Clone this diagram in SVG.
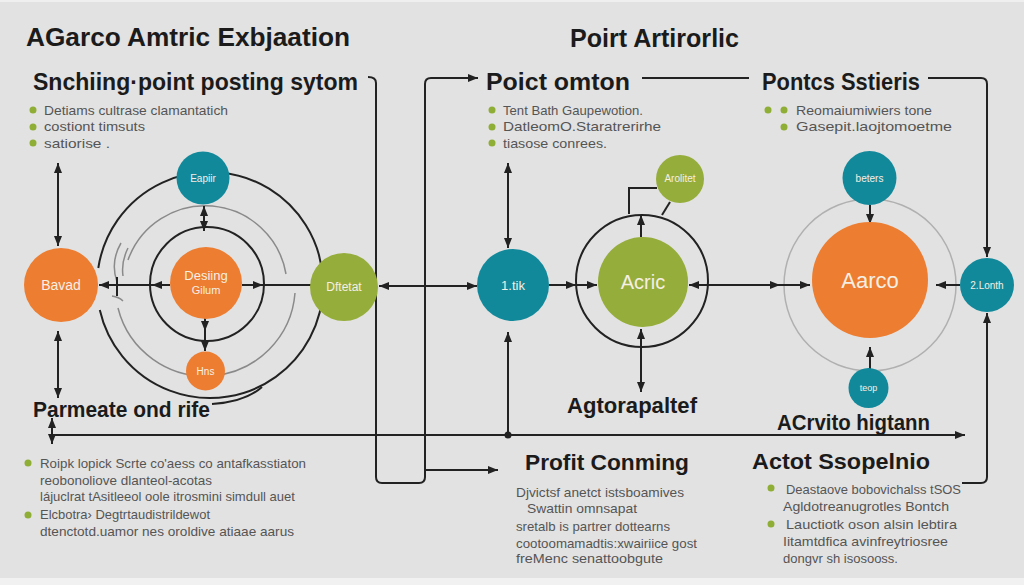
<svg xmlns="http://www.w3.org/2000/svg" width="1024" height="585" viewBox="0 0 1024 585">
<defs>
<marker id="ah" viewBox="0 0 10 10" refX="10" refY="5" markerWidth="10" markerHeight="10" markerUnits="userSpaceOnUse" orient="auto-start-reverse"><path d="M0,1 L10,5 L0,9 z" fill="#222"/></marker>
<style>
.ttl{font-family:"Liberation Sans",Arial,sans-serif;font-weight:bold;fill:#1b1b1b}
.sm{font-family:"Liberation Sans",Arial,sans-serif;font-size:13px;fill:#555}
.dot{fill:#8fae36}
.ln{fill:none;stroke:#222;stroke-width:2}
.ar{fill:none;stroke:#222;stroke-width:2;marker-end:url(#ah)}
.ar2{fill:none;stroke:#222;stroke-width:2;marker-end:url(#ah);marker-start:url(#ah)}
.gr{fill:none;stroke:#8a8a8a;stroke-width:1.5}
.teal{fill:#12899b}
.org{fill:#ec7d31}
.grn{fill:#95ad3b}
.nt{font-family:"Liberation Sans",Arial,sans-serif;fill:#f6efe4;text-anchor:middle}
</style>
</defs>
<rect width="1024" height="585" fill="#e2e2e2"/>
<rect y="578" width="1024" height="7" fill="#f1f1f1"/>
<rect width="1024" height="2" fill="#efefef"/>

<g id="titles">
<text class="ttl" x="26" y="46" font-size="26" textLength="324" lengthAdjust="spacingAndGlyphs">AGarco Amtric Exbjaation</text>
<text class="ttl" x="570" y="47" font-size="25" textLength="169" lengthAdjust="spacingAndGlyphs">Poirt Artirorlic</text>
</g>

<g id="sec-left-top">
<text class="ttl" x="33" y="90" font-size="24" textLength="325" lengthAdjust="spacingAndGlyphs">Snchiing·point posting sytom</text>
<circle class="dot" cx="33" cy="110" r="3.5"/><text class="sm" x="44" y="115" textLength="184" lengthAdjust="spacingAndGlyphs">Detiams cultrase clamantatich</text>
<circle class="dot" cx="33" cy="127" r="3.5"/><text class="sm" x="44" y="131" textLength="101" lengthAdjust="spacingAndGlyphs">costiont timsuts</text>
<circle class="dot" cx="33" cy="143" r="3.5"/><text class="sm" x="44" y="148" textLength="66" lengthAdjust="spacingAndGlyphs">satiorise .</text>
</g>

<g id="sec-mid-top">
<text class="ttl" x="486" y="90" font-size="24" textLength="144" lengthAdjust="spacingAndGlyphs">Poict omton</text>
<circle class="dot" cx="492" cy="110" r="3.5"/><text class="sm" x="503" y="115" textLength="140" lengthAdjust="spacingAndGlyphs">Tent Bath Gaupewotion.</text>
<circle class="dot" cx="492" cy="127" r="3.5"/><text class="sm" x="503" y="131" textLength="158" lengthAdjust="spacingAndGlyphs">DatleomO.Staratrerirhe</text>
<circle class="dot" cx="492" cy="143" r="3.5"/><text class="sm" x="503" y="148" textLength="104" lengthAdjust="spacingAndGlyphs">tiasose conrees.</text>
</g>

<g id="sec-right-top">
<text class="ttl" x="762" y="90" font-size="24" textLength="158" lengthAdjust="spacingAndGlyphs">Pontcs Sstieris</text>
<circle class="dot" cx="768" cy="110" r="3.5"/><circle class="dot" cx="784" cy="110" r="3.5"/><text class="sm" x="796" y="115" textLength="136" lengthAdjust="spacingAndGlyphs">Reomaiumiwiers tone</text>
<circle class="dot" cx="784" cy="127" r="3.5"/><text class="sm" x="796" y="131" textLength="156" lengthAdjust="spacingAndGlyphs">Gasepit.laojtomoetme</text>
</g>

<g id="connectors">
<path class="ln" d="M98.3 268 A113 113 0 1 1 99.8 310"/>
<path class="gr" d="M128 260 A82 82 0 0 1 286 274"/>
<path class="gr" d="M295 293 A90 90 0 0 1 118 308"/>
<path class="gr" d="M121 243 Q110 262 117 282"/>
<path class="gr" d="M128 248 Q121 262 123 276"/>
<path class="gr" d="M112 296 Q119 297 123 301"/>
<path class="ln" d="M117 277 V296" stroke-width="1.5"/>
<circle class="ln" cx="207" cy="284" r="57"/>
<path class="ln" d="M212 404 Q245 402 262 387"/>
<path class="ar2" d="M58 163 V246"/>
<path class="ar2" d="M58 331 V398"/>
<path class="ar2" d="M52 418 V444"/>
<path class="ar" d="M170 285 H152"/>
<path class="ar" d="M152 285 H99"/>
<path class="ar" d="M242 285 H263"/>
<path class="ln" d="M263 285 H311"/>
<path class="ar2" d="M204 206 V231"/>
<path class="ar" d="M205 318 V331"/>
<path class="ar" d="M205 331 V351"/>
<path class="ar2" d="M379 286 H477"/>
<path class="ar2" d="M508 163 V248"/>
<path class="ln" d="M508 332 V435" marker-start="url(#ah)"/>
<circle cx="508" cy="435" r="3.5" fill="#222"/>
<circle class="ln" cx="642" cy="281" r="66"/>
<circle cx="870" cy="285" r="86" fill="none" stroke="#b0b0b0" stroke-width="1.5"/>
<path class="ar" d="M549 285 H576"/>
<path class="ar" d="M576 285 H597"/>
<path class="ar" d="M641 237 V215"/>
<path class="ar2" d="M641 329 V392"/>
<path class="ln" d="M689 285 H780" marker-start="url(#ah)" marker-end="url(#ah)"/>
<path class="ar" d="M780 285 H810"/>
<path class="ln" d="M629 214 V188 H657"/>
<path class="ln" d="M662 215 L670 202"/>
<path class="ar" d="M870 205 V224"/>
<path class="ar" d="M870 369 V347"/>
<path class="ar" d="M960 285 H936"/>
<path class="ar" d="M928 78 H981 Q987 78 987 84 V257"/>
<path class="ar" d="M962 483 H981 Q987 483 987 477 V313"/>
<path class="ln" d="M642 78 H749"/>
<path class="ar" d="M368 77 Q376 77 376 83 V477 Q376 483 382 483 H419 Q425 483 425 477 V84 Q425 78 431 78 H478"/>
<path class="ar" d="M425 470 H498"/>
<path class="ar" d="M52 435 H965"/>
</g>

<g id="node-bavad"><circle class="org" cx="61" cy="285" r="37"/><text class="nt" x="61" y="290" font-size="14">Bavad</text></g>
<g id="node-eapiir"><circle class="teal" cx="203" cy="178" r="26.5"/><text class="nt" x="203" y="182" font-size="10">Eapiir</text></g>
<g id="node-desiing"><circle class="org" cx="206" cy="283" r="36"/><text class="nt" x="206" y="280" font-size="13">Desiing</text><text class="nt" x="206" y="294" font-size="11">Gilum</text></g>
<g id="node-hns"><circle class="org" cx="205.5" cy="371" r="19.5"/><text class="nt" x="205.5" y="375" font-size="10">Hns</text></g>
<g id="node-dftetat"><circle class="grn" cx="344" cy="287" r="34"/><text class="nt" x="344" y="291" font-size="12">Dftetat</text></g>
<g id="node-1tik"><circle class="teal" cx="513" cy="285" r="36"/><text class="nt" x="513" y="290" font-size="13">1.tik</text></g>
<g id="node-acric"><circle class="grn" cx="643" cy="282" r="45"/><text class="nt" x="643" y="289" font-size="20">Acric</text></g>
<g id="node-arolitet"><circle class="grn" cx="680" cy="179" r="24"/><text class="nt" x="680" y="182" font-size="10">Arolitet</text></g>
<g id="node-aarco"><circle class="org" cx="870" cy="280" r="58"/><text class="nt" x="870" y="288" font-size="22">Aarco</text></g>
<g id="node-beters"><circle class="teal" cx="869.5" cy="178" r="27"/><text class="nt" x="869.5" y="182" font-size="10">beters</text></g>
<g id="node-teop"><circle class="teal" cx="868.5" cy="388" r="20"/><text class="nt" x="868.5" y="391" font-size="9">teop</text></g>
<g id="node-2lonth"><circle class="teal" cx="987" cy="285" r="27"/><text class="nt" x="987" y="289" font-size="10">2.Lonth</text></g>

<g id="labels">
<text class="ttl" x="33" y="417" font-size="22" textLength="177" lengthAdjust="spacingAndGlyphs">Parmeate ond rife</text>
<text class="ttl" x="567" y="413" font-size="22" textLength="130" lengthAdjust="spacingAndGlyphs">Agtorapaltef</text>
<text class="ttl" x="777" y="430" font-size="22" textLength="153" lengthAdjust="spacingAndGlyphs">ACrvito higtann</text>
</g>

<g id="sec-left-bottom">
<circle class="dot" cx="28" cy="463" r="3.5"/>
<text class="sm" x="40" y="468" textLength="266" lengthAdjust="spacingAndGlyphs">Roipk lopick Scrte co'aess co antafkasstiaton</text>
<text class="sm" x="40" y="485" textLength="172" lengthAdjust="spacingAndGlyphs">reobonoliove dlanteol-acotas</text>
<text class="sm" x="40" y="501" textLength="255" lengthAdjust="spacingAndGlyphs">lájuclrat tAsitleeol oole itrosmini simdull auet</text>
<circle class="dot" cx="28" cy="515" r="3.5"/>
<text class="sm" x="40" y="519" textLength="170" lengthAdjust="spacingAndGlyphs">Elcbotra› Degtrtaudistrildewot</text>
<text class="sm" x="40" y="536" textLength="254" lengthAdjust="spacingAndGlyphs">dtenctotd.uamor nes oroldive atiaae aarus</text>
</g>

<g id="sec-mid-bottom">
<text class="ttl" x="525" y="470" font-size="22" textLength="164" lengthAdjust="spacingAndGlyphs">Profit Conming</text>
<text class="sm" x="516" y="497" textLength="168" lengthAdjust="spacingAndGlyphs">Djvictsf anetct istsboamives</text>
<text class="sm" x="527" y="513" textLength="110" lengthAdjust="spacingAndGlyphs">Swattin omnsapat</text>
<text class="sm" x="516" y="531" textLength="154" lengthAdjust="spacingAndGlyphs">sretalb is partrer dottearns</text>
<text class="sm" x="516" y="548" textLength="181" lengthAdjust="spacingAndGlyphs">cootoomamadtis:xwairiice gost</text>
<text class="sm" x="516" y="563" textLength="147" lengthAdjust="spacingAndGlyphs">freMenc senattoobgute</text>
</g>

<g id="sec-right-bottom">
<text class="ttl" x="752" y="469" font-size="22" textLength="178" lengthAdjust="spacingAndGlyphs">Actot Ssopelnio</text>
<circle class="dot" cx="771" cy="488" r="3.5"/>
<text class="sm" x="786" y="494" textLength="175" lengthAdjust="spacingAndGlyphs">Deastaove bobovichalss tSOS</text>
<text class="sm" x="783" y="511" textLength="166" lengthAdjust="spacingAndGlyphs">Agldotreanugrotles  Bontch</text>
<circle class="dot" cx="771" cy="524" r="3.5"/>
<text class="sm" x="786" y="529" textLength="171" lengthAdjust="spacingAndGlyphs">Lauctiotk oson alsin lebtira</text>
<text class="sm" x="783" y="546" textLength="165" lengthAdjust="spacingAndGlyphs">Iitamtdfica avinfreytriosree</text>
<text class="sm" x="783" y="563" textLength="115" lengthAdjust="spacingAndGlyphs">dongvr sh isosooss.</text>
</g>
</svg>
